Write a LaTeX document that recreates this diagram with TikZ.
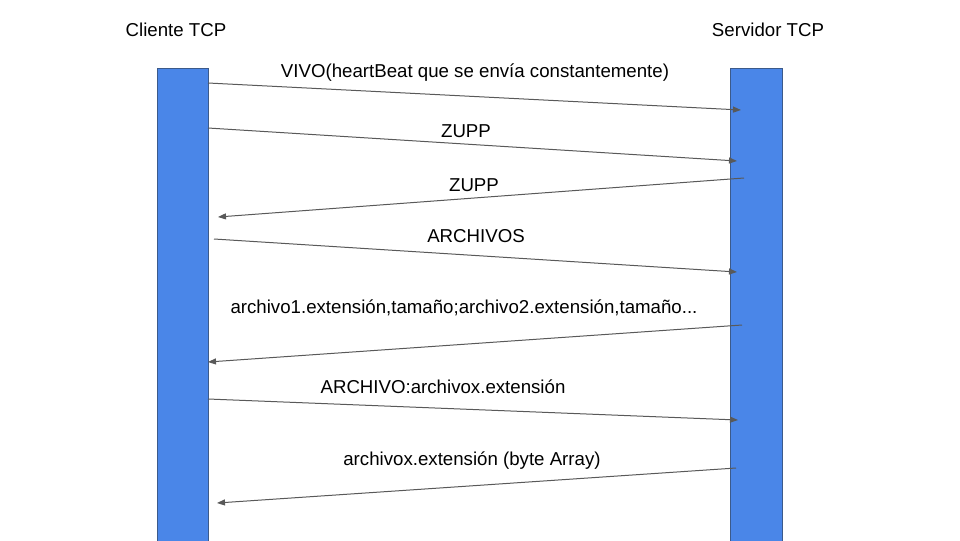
\documentclass[tikz,border=0pt]{standalone}
\usepackage{fontspec}
\setmainfont{Liberation Sans}
\usetikzlibrary{arrows.meta}
\definecolor{barblue}{HTML}{4A86E8}
\definecolor{barline}{HTML}{3C5A8A}
\definecolor{msggray}{HTML}{595959}
\begin{document}
\begin{tikzpicture}[x=0.75pt,y=-0.75pt,
  lifebar/.style={fill=barblue,draw=barline,line width=0.6pt},
  msg/.style={draw=msggray,line width=0.75pt,-{Triangle[length=6pt,width=4.5pt]}},
  lbl/.style={font=\fontsize{14}{16}\selectfont,inner sep=0pt,anchor=base}]
\useasboundingbox (0,0) rectangle (960,540);
\fill[white] (0,0) rectangle (960,540);
\draw[lifebar] (157,541) -- (157,68) -- (208,68) -- (208,541);
\draw[lifebar] (730,541) -- (730,68) -- (782,68) -- (782,541);
\node[lbl] (cli) at (176,36) {Cliente TCP};
\node[lbl] (srv) at (768,36) {Servidor TCP};
\coordinate (a1) at (208,83); \coordinate (b1) at (741,110);
\coordinate (a2) at (208,128); \coordinate (b2) at (737,161);
\coordinate (a3) at (744,178); \coordinate (b3) at (218,217);
\coordinate (a4) at (214,239); \coordinate (b4) at (737,272);
\coordinate (a5) at (742,325); \coordinate (b5) at (208,362);
\coordinate (a6) at (208,399); \coordinate (b6) at (738,420);
\coordinate (a7) at (736,468); \coordinate (b7) at (217,503);
\draw[msg] (a1) -- (b1);
\draw[msg] (a2) -- (b2);
\draw[msg] (a3) -- (b3);
\draw[msg] (a4) -- (b4);
\draw[msg] (a5) -- (b5);
\draw[msg] (a6) -- (b6);
\draw[msg] (a7) -- (b7);
\node[lbl] (l1) at (475,77) {VIVO(heartBeat que se envía constantemente)};
\node[lbl] (l2) at (466,137) {ZUPP};
\node[lbl] (l3) at (474,191) {ZUPP};
\node[lbl] (l4) at (476,242) {ARCHIVOS};
\node[lbl] (l5) at (464,313) {archivo1.extensión,tamaño;archivo2.extensión,tamaño...};
\node[lbl] (l6) at (443,393) {ARCHIVO:archivox.extensión};
\node[lbl] (l7) at (472,465) {archivox.extensión (byte Array)};
\end{tikzpicture}
\end{document}
